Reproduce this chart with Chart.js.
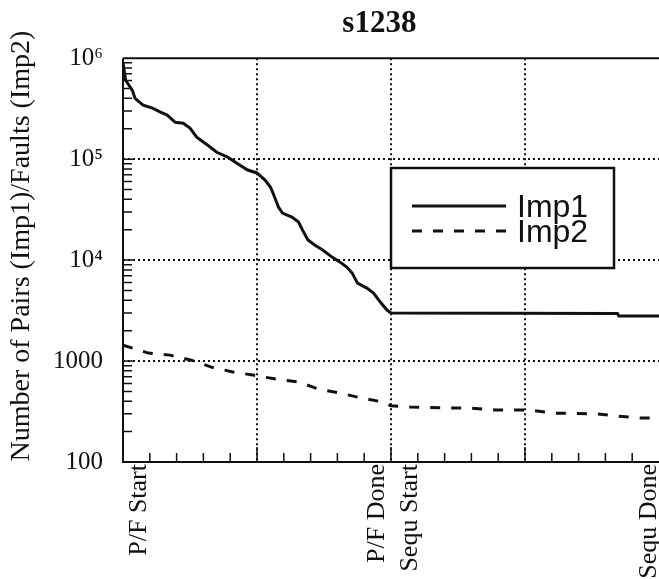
<!DOCTYPE html>
<html>
<head>
<meta charset="utf-8">
<script src="https://cdn.jsdelivr.net/npm/chart.js@4.4.0/dist/chart.umd.min.js"></script>
<style>
  html, body { margin: 0; padding: 0; background: #fff; overflow: hidden; }
  #wrap { width: 659px; height: 579px; }
</style>
</head>
<body>
<div id="wrap"><canvas id="chart" width="659" height="579"></canvas></div>
<script>
const chartTitle = 's1238';
const yTitle = 'Number of Pairs (Imp1)/Faults (Imp2)';

// x axis: stages, majors are grid lines, labels sit next to them
const xMajor = [0, 1, 2, 3, 4];
const xLabelPos = [0.12, 1.9, 2.14, 3.93];
const xLabels = ['P/F Start', 'P/F Done', 'Sequ Start', 'Sequ Done'];

// y axis: log decades
const yTicks = [100, 1000, 1e4, 1e5, 1e6];
const yLabels = ['100', '1000', '10\u2074', '10\u2075', '10\u2076'];

const imp1X = [0, 0.02, 0.07, 0.09, 0.15, 0.22, 0.28, 0.33, 0.39, 0.45,
    0.50, 0.55, 0.63, 0.70, 0.78, 0.85, 0.93, 1.00, 1.06, 1.10,
    1.12, 1.16, 1.19, 1.26, 1.31, 1.34, 1.38, 1.43, 1.49, 1.56,
    1.62, 1.67, 1.71, 1.75, 1.82, 1.87, 1.92, 1.97, 2.00, 3.69,
    3.70, 4.00];
const imp1Y = [900000, 605000, 480000, 400000, 343000, 320000, 292000, 273000, 232000, 227000,
    203000, 165000, 138000, 117000, 105000, 91000, 78000, 73000, 62000, 53000,
    46000, 33500, 29200, 26700, 23800, 19800, 15800, 14100, 12600, 10700,
    9550, 8530, 7430, 5910, 5280, 4710, 3840, 3200, 2990, 2950,
    2790, 2790];

const imp2X = [0, 0.19, 0.35, 0.51, 0.66, 0.82, 0.97, 1.14, 1.31, 1.46, 1.62, 1.78,
    1.94, 2.00, 2.14, 2.42, 2.59, 2.78, 3.04, 3.21, 3.54, 3.69, 3.86, 4.00];
const imp2Y = [1440, 1200, 1145, 1020, 870, 780, 726, 663, 620, 528, 482, 430,
    393, 360, 351, 343, 343, 327, 327, 305, 300, 285, 273, 273];

const ink = '#111';
const serif = '"Liberation Serif", "Times New Roman", serif';

Chart.defaults.font.family = serif;
Chart.defaults.color = ink;

const toPoints = (xs, ys) => xs.map((x, i) => ({ x: x, y: ys[i] }));

// frame lines + short inward tick marks
const frame = {
    id: 'frame',
    beforeDatasetsDraw(chart) {
        const { ctx, chartArea: a, scales: { x, y } } = chart;
        ctx.save();
        ctx.strokeStyle = ink;
        ctx.lineWidth = 2;
        ctx.beginPath();
        ctx.moveTo(a.left, a.top);
        ctx.lineTo(a.right, a.top);
        ctx.moveTo(a.left, a.top);
        ctx.lineTo(a.left, a.bottom);
        ctx.lineTo(a.right, a.bottom);
        ctx.stroke();

        ctx.lineWidth = 1.5;
        ctx.beginPath();
        for (let i = 1; i < 20; i++) {
            const px = x.getPixelForValue(i / 5);
            const len = i % 5 === 0 ? 15 : 9;
            ctx.moveTo(px, a.bottom);
            ctx.lineTo(px, a.bottom - len);
        }
        for (let e = 2; e < 6; e++) {
            for (let k = 1; k < 10; k++) {
                if (k === 1 && e === 2) continue;
                const py = y.getPixelForValue(k * Math.pow(10, e));
                const len = k === 1 ? 12 : 9;
                ctx.moveTo(a.left, py);
                ctx.lineTo(a.left + len, py);
            }
        }
        ctx.stroke();
        ctx.restore();
    }
};

// boxed legend inside the plot
const boxLegend = {
    id: 'boxLegend',
    afterDatasetsDraw(chart) {
        const { ctx } = chart;
        const x0 = 391, y0 = 168, w = 223, h = 100;
        ctx.save();
        ctx.fillStyle = '#fff';
        ctx.fillRect(x0, y0, w, h);
        ctx.strokeStyle = ink;
        ctx.lineWidth = 2.5;
        ctx.strokeRect(x0, y0, w, h);
        ctx.font = '32px "Liberation Sans", Arial, sans-serif';
        ctx.textBaseline = 'alphabetic';
        chart.data.datasets.forEach((ds, i) => {
            const ly = 206 + i * 25;
            ctx.setLineDash(ds.borderDash || []);
            ctx.lineWidth = ds.borderWidth;
            ctx.beginPath();
            ctx.moveTo(412, ly);
            ctx.lineTo(506, ly);
            ctx.stroke();
            ctx.setLineDash([]);
            ctx.fillStyle = ink;
            ctx.fillText(ds.label, 517, ly + 11);
        });
        ctx.restore();
    }
};

const dots = { width: 2, dash: [2, 3] };

new Chart(document.getElementById('chart'), {
    type: 'line',
    data: {
        datasets: [{
            label: 'Imp1',
            data: toPoints(imp1X, imp1Y),
            borderColor: ink,
            borderWidth: 3,
            pointRadius: 0,
            tension: 0,
            fill: false
        }, {
            label: 'Imp2',
            data: toPoints(imp2X, imp2Y),
            borderColor: ink,
            borderWidth: 3,
            borderDash: [10, 11],
            pointRadius: 0,
            tension: 0,
            fill: false
        }]
    },
    options: {
        responsive: false,
        animation: false,
        layout: { padding: 0 },
        scales: {
            x: {
                type: 'linear',
                min: 0,
                max: 4,
                afterBuildTicks: s => {
                    s.ticks = [...xMajor, ...xLabelPos].sort((a, b) => a - b).map(v => ({ value: v }));
                },
                afterFit: s => { s.height = 117; s.paddingLeft = 0; s.paddingRight = 0; },
                grid: {
                    drawTicks: false,
                    lineWidth: dots.width,
                    color: c => (c.tick && xMajor.includes(c.tick.value) && c.tick.value > 0 && c.tick.value < 4) ? ink : 'transparent'
                },
                border: { display: false, dash: dots.dash },
                ticks: {
                    autoSkip: false,
                    maxRotation: 90,
                    minRotation: 90,
                    padding: 2,
                    font: { size: 26 },
                    color: ink,
                    callback: v => {
                        const i = xLabelPos.indexOf(v);
                        return i >= 0 ? xLabels[i] : '';
                    }
                }
            },
            y: {
                type: 'logarithmic',
                min: 100,
                max: 1e6,
                afterBuildTicks: s => { s.ticks = yTicks.map(v => ({ value: v })); },
                afterFit: s => { s.width = 123; },
                grid: {
                    drawTicks: false,
                    lineWidth: dots.width,
                    color: c => (c.tick && c.tick.value > 100 && c.tick.value < 1e6) ? ink : 'transparent'
                },
                border: { display: false, dash: dots.dash },
                ticks: {
                    padding: 20,
                    font: { size: 25 },
                    color: ink,
                    callback: v => {
                        const i = yTicks.indexOf(v);
                        return i >= 0 ? yLabels[i] : '';
                    }
                },
                title: {
                    display: true,
                    text: '    ' + yTitle,
                    font: { size: 28 },
                    color: ink,
                    padding: { top: 5, bottom: 0 }
                }
            }
        },
        plugins: {
            legend: { display: false },
            tooltip: { enabled: false },
            title: {
                display: true,
                text: chartTitle + '\u00a0\u00a0\u00a0',
                fullSize: false,
                color: ink,
                font: { size: 31, weight: 'bold', family: serif },
                padding: { top: 5, bottom: 16 }
            }
        }
    },
    plugins: [frame, boxLegend]
});
</script>
</body>
</html>
